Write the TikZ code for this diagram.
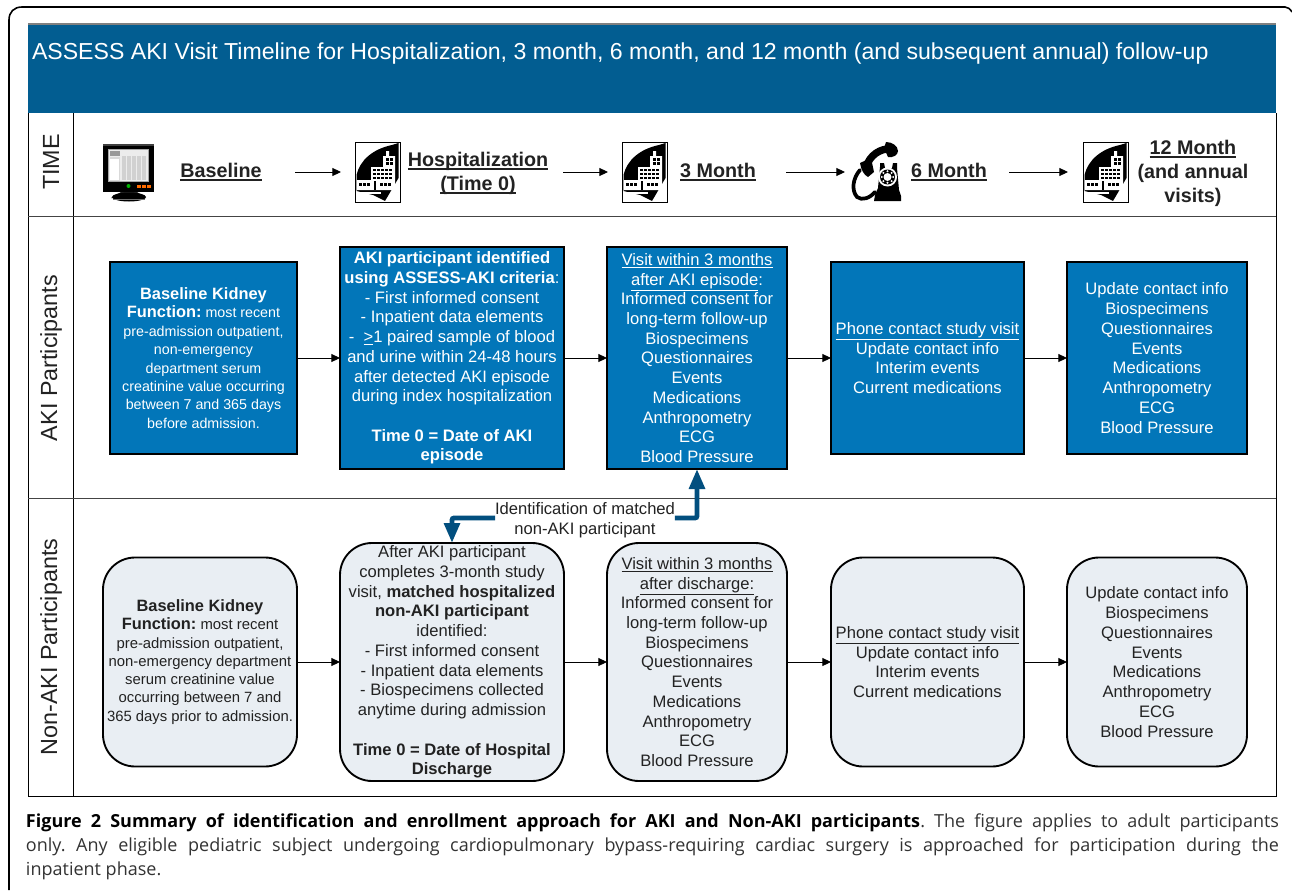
\documentclass[tikz,border=0pt]{standalone}
\usepackage{fontspec}
\setmainfont{Liberation Sans}
\newfontfamily\capfont{Open Sans}
\usetikzlibrary{arrows.meta}
\newcommand\thul[1]{\setbox0\hbox{#1}\leavevmode\rlap{\rule[-2.6pt]{\wd0}{1.25pt}}\box0}
\definecolor{headblue}{HTML}{025D91}
\definecolor{akiblue}{HTML}{0276B9}
\definecolor{nonfill}{HTML}{E9EEF3}
\definecolor{thickblue}{HTML}{024F7F}
\definecolor{lanegray}{HTML}{444444}
\definecolor{txt}{HTML}{222222}
\tikzset{
  x=0.75pt,y=-0.75pt,
  every node/.style={inner sep=0pt,outer sep=0pt},
  akibox/.style={draw=black,line width=1.4pt,fill=akiblue,text=white,align=center,font=\fontsize{12.45}{14.8}\selectfont},
  nonbox/.style={draw=black,line width=1.4pt,fill=nonfill,text=txt,align=center,rounded corners=24pt,font=\fontsize{12.45}{14.8}\selectfont},
  smalltext/.style={font=\fontsize{10.7}{13.8}\selectfont},
  nsmalltext/.style={font=\fontsize{11.15}{13.7}\selectfont},
  lanelabel/.style={rotate=90,text=txt,font=\fontsize{17.5}{20}\selectfont},
  timelabel/.style={align=center,text=txt,font=\fontsize{14.8}{18}\selectfont\bfseries},
  captext/.style={anchor=base west,font=\capfont\fontsize{13.5}{16}\selectfont,text=black!80},
  flow/.style={-{Triangle[length=6.5pt,width=6pt]},line width=0.65pt,black},
  thick arrow/.style={-{Triangle[length=15pt,width=11.5pt]},line width=3.6pt,thickblue,rounded corners=1.5pt},
  hospital/.pic={
    \draw[black,fill=white,line width=0.6pt] (0,0) rectangle (45,60);
    \fill[black] (1.5,33) .. controls (5,18) and (18,7) .. (37,3) -- (43.5,1) -- (43.5,36) -- (30,59) -- (18,53) -- (1.5,49) -- cycle;
    \fill[white] (2,38) -- (16,38) -- (16,25) -- (28,25) -- (28,14) -- (31,14) -- (31,9) -- (34,9) -- (34,14) -- (40,14) -- (40,48) -- (2,48) -- cycle;
    \fill[white] (2,50) -- (26,50) -- (26,52) -- (2,52) -- cycle;
    \foreach \c in {30.5,34.5}{\foreach \r in {16,20}{\fill[black] (\c,\r) rectangle +(3,2.6);}}
    \foreach \c in {18,22,26,30,34}{\foreach \r in {27,31,34.6}{\fill[black] (\c,\r) rectangle +(2.8,2.4);}}
    \foreach \c in {4,8,12,25,29,33}{\fill[black] (\c,41) rectangle +(2.8,3);}
    \fill[black] (19,39) rectangle (21,48);
  }
}
\begin{document}
\frenchspacing
\begin{tikzpicture}
\useasboundingbox (0,0) rectangle (1292,892);
\fill[white] (0,0) rectangle (1292,892);
% outer frame
\draw[black,line width=1.2pt] (9,890) -- (9,20) .. controls (9,12) and (14,7) .. (22,7) -- (1285,7) .. controls (1288,7) and (1290,9) .. (1292,12);
% header and lanes
\fill[headblue] (28,24) rectangle (1276,113);
\draw[gray,line width=0.8pt] (28,24) -- (1276,24);
\draw[black,line width=0.7pt] (28,113) -- (28,796) -- (1276,796) -- (1276,113);
\draw[black,line width=0.7pt] (73,113) -- (73,796);
\draw[lanegray,line width=1.3pt] (28,216.5) -- (1276,216.5);
\draw[lanegray,line width=1pt] (28,498.5) -- (1276,498.5);
\node[anchor=west,text=white,font=\fontsize{17.33}{20}\selectfont] (title) at (32,54) {ASSESS AKI Visit Timeline for Hospitalization, 3 month, 6 month, and 12 month (and subsequent annual) follow-up};
\node[lanelabel] (laneT) at (51,162) {TIME};
\node[lanelabel] (laneA) at (51,358) {AKI Participants};
\node[lanelabel] (laneN) at (51,647) {Non-AKI Participants};
% monitor icon
\fill[black] (103,144) rectangle (154,192);
\fill[black!75] (103,144) rectangle (154,146);
\fill[black!85] (121,192) -- (137,192) -- (146,198) -- (111,198) -- cycle;
\fill[black] (129,197) ellipse (17 and 4.5);
\fill[black!55] (113,199) rectangle (145,200);
\fill[black!35] (108,149) rectangle (149,182);
\fill[white!85!gray] (109,150) rectangle (148,181);
\fill[black!15] (110,157) rectangle (120,181);
\fill[white] (110,159) rectangle (119,180);
\foreach \c in {122,127,132,137,142}{\fill[black!18] (\c,156) rectangle +(3.5,24);}
\fill[black!40] (110,151) rectangle (120,156);
\fill[green!70!black] (128.5,186) circle (2);
\foreach \c in {137,142,147}{\fill[orange!85!red] (\c,185) rectangle +(4,2.5);}
% hospital icons
\pic at (355,142) {hospital};
\pic at (622,142) {hospital};
\pic at (1083,142) {hospital};
% telephone icon
\draw[black,line width=5.5pt] (891,149) .. controls (881,148) and (869,155) .. (866,168);
\fill[black] (886,142) .. controls (892,142) and (898,146) .. (898,151) .. controls (898,155) and (893,158) .. (888,157) -- (884,148) -- cycle;
\fill[black] (860,163) -- (871,158) -- (874,172) -- (868,177) .. controls (864,175) and (861,170) .. (860,163) -- cycle;
\draw[black,line width=2.8pt,line cap=round] (860,170) .. controls (853,178) and (851,190) .. (857,197) .. controls (862,201) and (870,198) .. (875,192);
\fill[black] (880,167) -- (880,163) -- (884,163) -- (885,168) -- (892,168) -- (893,163) -- (897,163) -- (897,168) -- (899,190) -- (901,196) -- (901,201) -- (874,201) -- (875,195) -- (878,188) -- cycle;
\fill[white] (887.5,177) circle (9.5);
\fill[black] (887.5,177) circle (7.5);
\fill[white] (887.5,177) circle (4);
\foreach \a in {0,45,...,315}{\fill[white] (887.5,177) ++(\a:5.8) circle (1.1);}
% time labels
\node[timelabel] (tBase) at (221,172) {\thul{Baseline}};
\node[timelabel] (tHosp) at (478,173) {\thul{Hospitalization}\\\thul{(Time 0)}};
\node[timelabel] (t3) at (718,172) {\thul{3 Month}};
\node[timelabel] (t6) at (949,172) {\thul{6 Month}};
\node[timelabel] (t12) at (1193,173) {\thul{12 Month}\\(and annual\\visits)};
\coordinate (t1s) at (295,172); \coordinate (t1e) at (341,172);
\coordinate (t2s) at (563,172); \coordinate (t2e) at (608,172);
\coordinate (t3s) at (786,172); \coordinate (t3e) at (845,172);
\coordinate (t4s) at (1009,172); \coordinate (t4e) at (1068,172);
\draw[flow] (t1s) -- (t1e);
\draw[flow] (t2s) -- (t2e);
\draw[flow] (t3s) -- (t3e);
\draw[flow] (t4s) -- (t4e);
% AKI boxes
\node[akibox,smalltext,minimum width=187*.75pt,minimum height=192*.75pt] (a1) at (203.5,358) {{\bfseries\fontsize{12.3}{13.8}\selectfont Baseline Kidney}\\{\bfseries\fontsize{12.3}{13.8}\selectfont Function:} most recent\\pre-admission outpatient,\\non-emergency\\department serum\\creatinine value occurring\\between 7 and 365 days\\before admission.};
\node[akibox,minimum width=224*.75pt,minimum height=222*.75pt] (a2) at (452,358) {\textbf{AKI participant identified}\\\textbf{using ASSESS-AKI criteria}:\\- First informed consent\\- Inpatient data elements\\-\ \ \underline{>}1 paired sample of blood\\and urine within 24-48 hours\\after detected AKI episode\\during index hospitalization\\\mbox{}\\\textbf{Time 0 = Date of AKI}\\\textbf{episode}};
\node[akibox,minimum width=180*.75pt,minimum height=222*.75pt] (a3) at (697,358) {\underline{Visit within 3 months}\\\underline{after AKI episode}:\\Informed consent for\\long-term follow-up\\Biospecimens\\Questionnaires\\Events\\Medications\\Anthropometry\\ECG\\Blood Pressure};
\node[akibox,minimum width=193*.75pt,minimum height=192*.75pt] (a4) at (927.5,358) {\underline{Phone contact study visit}\\Update contact info\\Interim events\\Current medications};
\node[akibox,minimum width=180*.75pt,minimum height=192*.75pt] (a5) at (1157,358) {Update contact info\\Biospecimens\\Questionnaires\\Events\\Medications\\Anthropometry\\ECG\\Blood Pressure};
\draw[flow] (a1.east) -- (a2.west);
\draw[flow] (a2.east) -- (a3.west);
\draw[flow] (a3.east) -- (a4.west);
\draw[flow] (a4.east) -- (a5.west);
% non-AKI boxes
\node[nonbox,nsmalltext,minimum width=194*.75pt,minimum height=209*.75pt] (n1) at (200,662) {{\bfseries\fontsize{12.3}{13.8}\selectfont Baseline Kidney}\\{\bfseries\fontsize{12.3}{13.8}\selectfont Function:} most recent\\pre-admission outpatient,\\non-emergency department\\serum creatinine value\\occurring between 7 and\\365 days prior to admission.};
\node[nonbox,minimum width=224*.75pt,minimum height=238*.75pt] (n2) at (452,662) {After AKI participant\\completes 3-month study\\visit, \textbf{matched hospitalized}\\\textbf{non-AKI participant}\\identified:\\- First informed consent\\- Inpatient data elements\\- Biospecimens collected\\anytime during admission\\\mbox{}\\\textbf{Time 0 = Date of Hospital}\\\textbf{Discharge}};
\node[nonbox,minimum width=180*.75pt,minimum height=238*.75pt] (n3) at (697,662) {\underline{Visit within 3 months}\\\underline{after discharge:}\\Informed consent for\\long-term follow-up\\Biospecimens\\Questionnaires\\Events\\Medications\\Anthropometry\\ECG\\Blood Pressure};
\node[nonbox,minimum width=193*.75pt,minimum height=209*.75pt] (n4) at (927.5,662) {\underline{Phone contact study visit}\\Update contact info\\Interim events\\Current medications};
\node[nonbox,minimum width=180*.75pt,minimum height=209*.75pt] (n5) at (1157,662) {Update contact info\\Biospecimens\\Questionnaires\\Events\\Medications\\Anthropometry\\ECG\\Blood Pressure};
\draw[flow] (n1.east) -- (n2.west);
\draw[flow] (n2.east) -- (n3.west);
\draw[flow] (n3.east) -- (n4.west);
\draw[flow] (n4.east) -- (n5.west);
% identification label and thick arrows
\node[fill=white,align=center,text=txt,inner ysep=1pt,font=\fontsize{12.45}{14.8}\selectfont] (ident) at (585,520) {Identification of matched\\non-AKI participant};
\draw[thick arrow] ([yshift=1.5pt]ident.west) -| (n2.north);
\draw[thick arrow] ([yshift=1.5pt]ident.east) -| (a3.south);
% caption
\node[captext] (cap1) at (26,827) {\makebox[939.75pt][s]{\textbf{\textcolor{black}{Figure 2 Summary of identification and enrollment approach for AKI and Non-AKI participants}}. The figure applies to adult participants}};
\node[captext] (cap2) at (26,851) {\makebox[939.75pt][s]{only. Any eligible pediatric subject undergoing cardiopulmonary bypass-requiring cardiac surgery is approached for participation during the}};
\node[captext] (cap3) at (26,875) {inpatient phase.};
\end{tikzpicture}
\end{document}
